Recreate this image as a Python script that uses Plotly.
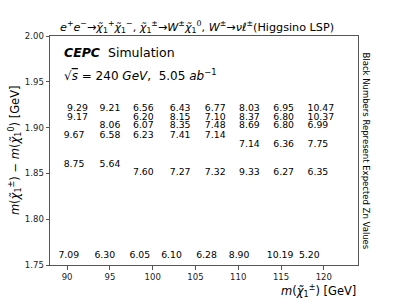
import plotly.graph_objects as go

# ---- data ----
# upper block: text left-anchored at chargino mass column, rows in delta-m
upper_mass = [90, 90, 89.6, 89.6,
              93.8, 93.8, 93.8, 93.8,
              97.7, 97.7, 97.7, 97.7, 97.7,
              102, 102, 102, 102, 102,
              106.1, 106.1, 106.1, 106.1, 106.1,
              110.1, 110.1, 110.1, 110.1, 110.1,
              114.1, 114.1, 114.1, 114.1, 114.1,
              118.1, 118.1, 118.1, 118.1, 118.1]
upper_dm = [1.921, 1.911, 1.891, 1.860,
            1.921, 1.902, 1.891, 1.860,
            1.921, 1.911, 1.902, 1.891, 1.851,
            1.921, 1.911, 1.902, 1.891, 1.851,
            1.921, 1.911, 1.902, 1.891, 1.851,
            1.921, 1.911, 1.902, 1.881, 1.851,
            1.921, 1.911, 1.902, 1.881, 1.851,
            1.921, 1.911, 1.902, 1.881, 1.851]
upper_zn = ["9.29", "9.17", "9.67", "8.75",
            "9.21", "8.06", "6.58", "5.64",
            "6.56", "6.20", "6.07", "6.23", "7.60",
            "6.43", "8.15", "8.35", "7.41", "7.27",
            "6.77", "7.10", "7.48", "7.14", "7.32",
            "8.03", "8.37", "8.69", "7.14", "9.33",
            "6.95", "6.80", "6.80", "6.36", "6.27",
            "10.47", "10.37", "6.99", "7.75", "6.35"]

# bottom row: centred text
lower_mass = [90.2, 94.4, 98.5, 102.2, 106.3, 110.1, 114.9, 118.3]
lower_dm = [1.760] * 8
lower_zn = ["7.09", "6.30", "6.05", "6.10", "6.28", "8.90", "10.19", "5.20"]

x_ticks = [90, 95, 100, 105, 110, 115, 120]
y_ticks = [1.75, 1.80, 1.85, 1.90, 1.95, 2.00]

FONT = "DejaVu Sans"
AX = "#555555"

fig = go.Figure()
fig.add_trace(go.Scatter(x=upper_mass, y=upper_dm, text=upper_zn, mode="text",
                         textposition="middle right",
                         textfont=dict(family=FONT, size=9.3, color="black"),
                         hoverinfo="skip", showlegend=False))
fig.add_trace(go.Scatter(x=lower_mass, y=lower_dm, text=lower_zn, mode="text",
                         textposition="middle center",
                         textfont=dict(family=FONT, size=9.3, color="black"),
                         hoverinfo="skip", showlegend=False))

chi = "<i>χ\u0303</i>"
title = ("<i>e</i><sup>+</sup><i>e</i><sup>−</sup>→" + chi + "<sub>1</sub><sup>+</sup>" + chi +
         "<sub>1</sub><sup>−</sup>, " + chi + "<sub>1</sub><sup>±</sup>→<i>W</i><sup>±</sup>" + chi +
         "<sub>1</sub><sup>0</sup>, <i>W</i><sup>±</sup>→<i>νℓ</i><sup>±</sup>(Higgsino LSP)")

fig.update_layout(
    width=399, height=299,
    margin=dict(l=50, r=41, t=36, b=34),
    paper_bgcolor="white", plot_bgcolor="white",
    font=dict(family=FONT, color="black"),
    xaxis=dict(range=[88, 124], tickvals=x_ticks, ticktext=[str(v) for v in x_ticks],
               showgrid=False, zeroline=False, showline=True, mirror=True,
               linecolor=AX, linewidth=1, ticks="outside", ticklen=3.5, tickcolor=AX,
               tickfont=dict(size=8.5, color="#222")),
    yaxis=dict(range=[1.75, 2.00], tickvals=y_ticks, ticktext=["%.2f" % v for v in y_ticks],
               showgrid=False, zeroline=False, showline=True, mirror=True,
               linecolor=AX, linewidth=1, ticks="outside", ticklen=3.5, tickcolor=AX,
               tickfont=dict(size=8.5, color="#222")),
    annotations=[
        dict(text=title, xref="paper", yref="paper", x=0.478, y=1.0, yshift=-1,
             xanchor="center", yanchor="bottom", showarrow=False,
             font=dict(size=11.2, family=FONT)),
        dict(text="<b><i>CEPC</i></b>  Simulation", xref="paper", yref="paper",
             x=0.04, y=0.93, xanchor="left", yanchor="middle", showarrow=False,
             font=dict(size=12.5, family=FONT)),
        dict(text="√<span style='text-decoration:overline'><i>s</i></span> = 240 <i>GeV</i>,  5.05 <i>ab</i><sup>−1</sup>",
             xref="paper", yref="paper",
             x=0.04, y=0.83, xanchor="left", yanchor="middle", showarrow=False,
             font=dict(size=12, family=FONT)),
        dict(text="<i>m</i>(" + chi + "<sub>1</sub><sup>±</sup>) − <i>m</i>(" + chi + "<sub>1</sub><sup>0</sup>) [GeV]",
             xref="paper", yref="paper", x=-0.115, y=0.5, textangle=-90,
             xanchor="center", yanchor="middle", showarrow=False,
             font=dict(size=11.5, family=FONT)),
        dict(text="<i>m</i>(" + chi + "<sub>1</sub><sup>±</sup>) [GeV]",
             xref="paper", yref="paper", x=1.0, y=-0.072, xanchor="right", yanchor="top",
             showarrow=False, font=dict(size=11.5, family=FONT)),
        dict(text="Black Numbers Represent Expected Zn Values", xref="paper", yref="paper",
             x=1.0, xshift=1, y=0.5, textangle=90, xanchor="left", yanchor="middle",
             showarrow=False, font=dict(size=8.5, family=FONT)),
    ],
)

fig.write_html("out.html", config={"displayModeBar": False},
               post_script="document.body.style.margin='0';")
